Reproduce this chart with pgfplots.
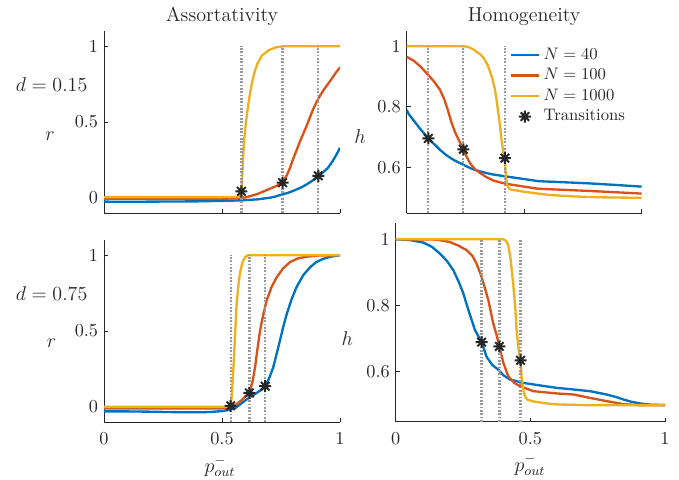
\documentclass[border=0pt]{standalone}
\usepackage{pgfplots}
\pgfplotsset{compat=1.18}

\definecolor{mblue}{rgb}{0,0.447,0.741}
\definecolor{morange}{rgb}{0.85,0.325,0.098}
\definecolor{myellow}{rgb}{0.929,0.694,0.125}
\definecolor{axgray}{rgb}{0.15,0.15,0.15}
\definecolor{dotgray}{rgb}{0.6,0.6,0.6}

% MATLAB-like '*' marker (plus and cross)
\pgfdeclareplotmark{mstar}{%
  \pgfpathmoveto{\pgfqpoint{-\pgfplotmarksize}{0pt}}%
  \pgfpathlineto{\pgfqpoint{\pgfplotmarksize}{0pt}}%
  \pgfpathmoveto{\pgfqpoint{0pt}{-\pgfplotmarksize}}%
  \pgfpathlineto{\pgfqpoint{0pt}{\pgfplotmarksize}}%
  \pgfpathmoveto{\pgfqpoint{-0.707\pgfplotmarksize}{-0.707\pgfplotmarksize}}%
  \pgfpathlineto{\pgfqpoint{0.707\pgfplotmarksize}{0.707\pgfplotmarksize}}%
  \pgfpathmoveto{\pgfqpoint{-0.707\pgfplotmarksize}{0.707\pgfplotmarksize}}%
  \pgfpathlineto{\pgfqpoint{0.707\pgfplotmarksize}{-0.707\pgfplotmarksize}}%
  \pgfusepathqstroke}

\pgfplotsset{
  panel/.style={
    scale only axis,
    axis x line*=bottom, axis y line*=left,
    axis line style={-, draw=axgray, line width=0.6pt},
    tick align=inside, major tick length=2.5pt,
    tick style={axgray, line width=0.6pt},
    xmin=0, xmax=1, xtick={0,0.5,1},
    tick label style={font=\fontsize{11}{13}\selectfont, text=axgray},
    xticklabel style={yshift=-2.9pt},
    /pgf/number format/fixed,
    title style={font=\fontsize{12.1}{14}\selectfont, text=axgray,
      at={(0.5,1)}, anchor=base, yshift=-0.2pt},
  },
  cur/.style={line width=1.4pt, no marks},
  trans/.style={dotgray, line width=1.4pt, dash pattern=on 1.1pt off 0.9pt, forget plot},
  stars/.style={only marks, mark=mstar, mark size=3.6pt, axgray,
    mark options={line width=1.2pt, draw=axgray}},
}

\begin{document}
\begin{tikzpicture}
\useasboundingbox (0,0) rectangle (407.4pt,-287.4pt);

% ---------- top left: assortativity, d = 0.15
\begin{axis}[panel, at={(62.4pt,-127.8pt)}, anchor=south west,
  width=141.6pt, height=109.2pt,
  ymin=-0.1, ymax=1.1, ytick={0,0.5,1}, xticklabels={},
  title={Assortativity}]
\addplot[cur, mblue] coordinates {(0,-0.025) (0.1,-0.026) (0.2,-0.025) (0.3,-0.024)
  (0.4,-0.023) (0.5,-0.02) (0.55,-0.018) (0.6,-0.015) (0.65,-0.01) (0.7,0.0)
  (0.72,0.006) (0.75,0.02) (0.78,0.033) (0.8,0.045) (0.82,0.058) (0.84,0.072)
  (0.86,0.09) (0.88,0.11) (0.908,0.145) (0.93,0.17) (0.95,0.2) (0.97,0.245)
  (0.985,0.285) (1,0.33)};
\addplot[cur, morange] coordinates {(0,-0.006) (0.5,-0.006) (0.55,-0.004) (0.6,0.003)
  (0.65,0.025) (0.7,0.058) (0.73,0.078) (0.757,0.1) (0.775,0.15) (0.79,0.205)
  (0.8,0.25) (0.83,0.37) (0.86,0.48) (0.885,0.58) (0.908,0.655) (0.93,0.71)
  (0.958,0.77) (0.98,0.82) (1,0.86)};
\addplot[cur, myellow] coordinates {(0,0.005) (0.5,0.005) (0.57,0.006) (0.577,0.012)
  (0.582,0.04) (0.586,0.15) (0.59,0.28) (0.595,0.4) (0.6,0.48) (0.61,0.6) (0.62,0.7)
  (0.63,0.78) (0.64,0.84) (0.65,0.885) (0.67,0.94) (0.7,0.975) (0.73,0.993)
  (0.76,0.999) (0.8,1) (1,1)};
\addplot[trans] coordinates {(0.582,-0.1) (0.582,1)};
\addplot[trans] coordinates {(0.757,-0.1) (0.757,1)};
\addplot[trans] coordinates {(0.908,-0.1) (0.908,1)};
\addplot[stars] coordinates {(0.582,0.043) (0.757,0.10) (0.908,0.145)};
\end{axis}

% ---------- top right: homogeneity, d = 0.15
\begin{axis}[panel, at={(244pt,-127.8pt)}, anchor=south west,
  width=141pt, height=109.2pt,
  ymin=0.45, ymax=1.05, ytick={0.6,0.8,1}, xticklabels={},
  title={Homogeneity},
  legend style={draw=none, fill=none, at={(0.415,0.945)}, anchor=north west,
    font=\fontsize{10}{12}\selectfont, text=axgray},
  legend cell align=left]
\addplot[cur, mblue] coordinates {(0,0.79) (0.01,0.775) (0.03,0.755) (0.06,0.725)
  (0.092,0.696) (0.12,0.675) (0.142,0.658) (0.17,0.64) (0.2,0.625) (0.241,0.609)
  (0.28,0.595) (0.312,0.587) (0.36,0.578) (0.418,0.571) (0.5,0.562) (0.56,0.555)
  (0.65,0.552) (0.77,0.548) (0.9,0.542) (1,0.537)};
\addplot[cur, morange] coordinates {(0,0.965) (0.03,0.952) (0.06,0.932) (0.092,0.905)
  (0.12,0.88) (0.142,0.856) (0.16,0.825) (0.175,0.79) (0.19,0.75) (0.205,0.718)
  (0.222,0.69) (0.241,0.66) (0.255,0.636) (0.27,0.614) (0.29,0.595) (0.312,0.582)
  (0.34,0.568) (0.369,0.557) (0.418,0.547) (0.5,0.537) (0.56,0.53) (0.65,0.527)
  (0.77,0.523) (0.9,0.518) (1,0.514)};
\addplot[cur, myellow] coordinates {(0,1) (0.24,1) (0.26,0.998) (0.283,0.99) (0.3,0.98)
  (0.315,0.972) (0.33,0.958) (0.345,0.937) (0.362,0.9) (0.375,0.86) (0.383,0.82)
  (0.39,0.78) (0.397,0.74) (0.404,0.69) (0.411,0.65) (0.418,0.63) (0.422,0.57)
  (0.428,0.54) (0.44,0.528) (0.5,0.52) (0.6,0.51) (0.7,0.505) (0.8,0.502) (1,0.5)};
\addplot[trans] coordinates {(0.092,0.45) (0.092,1)};
\addplot[trans] coordinates {(0.241,0.45) (0.241,1)};
\addplot[trans] coordinates {(0.418,0.45) (0.418,1)};
\addplot[stars] coordinates {(0.092,0.696) (0.241,0.66) (0.418,0.631)};
\legend{$N=40$, $N=100$, $N=1000$, Transitions}
\end{axis}

% ---------- bottom left: assortativity, d = 0.75
\begin{axis}[panel, at={(62.4pt,-253.2pt)}, anchor=south west,
  width=141.6pt, height=109.2pt,
  ymin=-0.1, ymax=1.1, ytick={0,0.5,1}]
\addplot[cur, mblue] coordinates {(0,-0.03) (0.1,-0.03) (0.2,-0.032) (0.3,-0.035)
  (0.4,-0.036) (0.45,-0.034) (0.5,-0.028) (0.537,-0.018) (0.56,-0.005) (0.58,0.02)
  (0.6,0.044) (0.63,0.075) (0.66,0.105) (0.683,0.136) (0.7,0.19) (0.717,0.26)
  (0.73,0.34) (0.746,0.44) (0.76,0.53) (0.774,0.61) (0.795,0.71) (0.816,0.79)
  (0.845,0.87) (0.873,0.92) (0.9,0.955) (0.929,0.976) (0.96,0.99) (1,1)};
\addplot[cur, morange] coordinates {(0,-0.01) (0.5,-0.01) (0.52,-0.007) (0.537,0.0)
  (0.56,0.015) (0.58,0.04) (0.6,0.07) (0.616,0.092) (0.63,0.17) (0.64,0.26)
  (0.65,0.38) (0.661,0.5) (0.675,0.61) (0.689,0.7) (0.71,0.79) (0.732,0.855)
  (0.76,0.915) (0.788,0.954) (0.82,0.978) (0.859,0.99) (0.9,0.997) (1,1)};
\addplot[cur, myellow] coordinates {(0,0.0) (0.5,0.0) (0.53,0.002) (0.537,0.007)
  (0.542,0.08) (0.548,0.24) (0.555,0.46) (0.562,0.68) (0.57,0.81) (0.576,0.88)
  (0.583,0.93) (0.59,0.965) (0.6,0.99) (0.611,1) (1,1)};
\addplot[trans] coordinates {(0.537,-0.1) (0.537,1)};
\addplot[trans] coordinates {(0.616,-0.1) (0.616,1)};
\addplot[trans] coordinates {(0.683,-0.1) (0.683,1)};
\addplot[stars] coordinates {(0.537,0.007) (0.616,0.092) (0.683,0.136)};
\end{axis}

% ---------- bottom right: homogeneity, d = 0.75
\begin{axis}[panel, at={(237.4pt,-253pt)}, anchor=south west,
  width=161.6pt, height=119.4pt,
  ymin=0.45, ymax=1.05, ytick={0.6,0.8,1}]
\addplot[cur, mblue] coordinates {(0,1) (0.05,0.998) (0.103,0.99) (0.135,0.977)
  (0.164,0.957) (0.19,0.935) (0.214,0.907) (0.235,0.87) (0.251,0.837) (0.27,0.787)
  (0.294,0.727) (0.319,0.69) (0.338,0.645) (0.36,0.62) (0.381,0.607) (0.4,0.59)
  (0.424,0.577) (0.474,0.567) (0.53,0.56) (0.598,0.552) (0.66,0.547) (0.721,0.542)
  (0.783,0.532) (0.82,0.524) (0.845,0.517) (0.875,0.51) (0.907,0.505) (0.95,0.501)
  (1,0.5)};
\addplot[cur, morange] coordinates {(0,1) (0.15,0.999) (0.2,0.992) (0.23,0.982)
  (0.264,0.967) (0.285,0.95) (0.3,0.927) (0.319,0.887) (0.344,0.817) (0.362,0.747)
  (0.375,0.71) (0.385,0.677) (0.4,0.627) (0.418,0.587) (0.44,0.567) (0.462,0.557)
  (0.511,0.542) (0.6,0.535) (0.66,0.532) (0.72,0.522) (0.783,0.512) (0.845,0.503)
  (0.9,0.5) (1,0.5)};
\addplot[cur, myellow] coordinates {(0,1) (0.4,1) (0.41,0.995) (0.418,0.982)
  (0.425,0.95) (0.431,0.907) (0.437,0.86) (0.443,0.807) (0.449,0.727) (0.455,0.68)
  (0.458,0.657) (0.464,0.635) (0.468,0.577) (0.474,0.545) (0.48,0.526) (0.49,0.516)
  (0.511,0.511) (0.56,0.505) (0.6,0.502) (0.7,0.5) (1,0.5)};
\addplot[trans] coordinates {(0.319,0.45) (0.319,1)};
\addplot[trans] coordinates {(0.385,0.45) (0.385,1)};
\addplot[trans] coordinates {(0.464,0.45) (0.464,1)};
\addplot[stars] coordinates {(0.319,0.69) (0.385,0.677) (0.464,0.635)};
\end{axis}

% ---------- labels
\begin{scope}[every node/.style={font=\fontsize{12.1}{14}\selectfont, text=axgray}]
\node at (31pt,-51pt) {$d = 0.15$};
\node at (30pt,-82pt) {$r$};
\node at (216pt,-82pt) {$h$};
\node at (31pt,-176.4pt) {$d = 0.75$};
\node at (31pt,-206pt) {$r$};
\node at (208.4pt,-203pt) {$h$};
\node at (132pt,-280pt) {$p^{-}_{out}$};
\node at (318pt,-279pt) {$p^{-}_{out}$};
\end{scope}
\end{tikzpicture}
\end{document}
